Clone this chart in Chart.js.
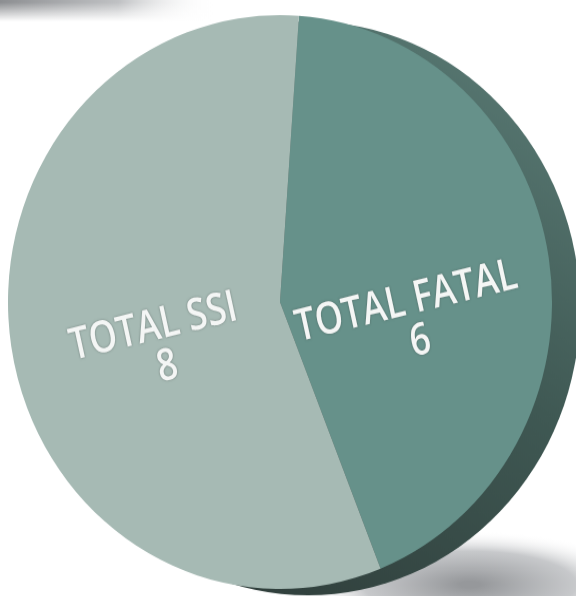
<!DOCTYPE html>
<html>
<head>
<meta charset="utf-8">
<script src="https://cdn.jsdelivr.net/npm/chart.js@4.4.1/dist/chart.umd.min.js"></script>
<style>
  html, body { margin: 0; padding: 0; background: #fff; overflow: hidden; }
  #wrap { width: 576px; height: 596px; overflow: hidden; }
  #pieChart { transform: scaleY(1.055); transform-origin: 280px 302px; }
</style>
</head>
<body>
<div id="wrap"><canvas id="pieChart" width="576" height="596"></canvas></div>
<script>
const categories = ['TOTAL FATAL', 'TOTAL SSI'];
const totals = [6, 8];
const sliceColors = ['#66918a', '#a6bab4'];

document.addEventListener('DOMContentLoaded', () => {
  const ctx = document.getElementById('pieChart').getContext('2d');

  // grey strip top-left and shadow under the pie
  const backdrop = {
    id: 'backdrop',
    beforeDraw(chart) {
      const c = chart.ctx;
      c.save();
      c.fillStyle = '#fff';
      c.fillRect(0, 0, chart.width, chart.height);

      let g = c.createLinearGradient(0, 0, 215, 0);
      g.addColorStop(0, 'rgba(140,142,145,1)');
      g.addColorStop(0.55, 'rgba(175,177,180,0.8)');
      g.addColorStop(1, 'rgba(255,255,255,0)');
      c.fillStyle = g;
      c.fillRect(0, 0, 215, 36);
      let v = c.createLinearGradient(0, 18, 0, 36);
      v.addColorStop(0, 'rgba(255,255,255,0)');
      v.addColorStop(1, 'rgba(255,255,255,1)');
      c.fillStyle = v;
      c.fillRect(0, 18, 215, 18);

      c.translate(470, 570);
      c.scale(1, 0.3);
      let r = c.createRadialGradient(0, 0, 10, 0, 0, 170);
      r.addColorStop(0, 'rgba(150,152,155,1)');
      r.addColorStop(0.6, 'rgba(185,187,190,0.8)');
      r.addColorStop(1, 'rgba(255,255,255,0)');
      c.fillStyle = r;
      c.beginPath();
      c.arc(0, 0, 170, 0, Math.PI * 2);
      c.fill();
      c.restore();
    }
  };

  // dark side of the disc
  const rim = {
    id: 'rim',
    beforeDatasetsDraw(chart) {
      const arc = chart.getDatasetMeta(0).data[0];
      const c = chart.ctx;
      const R = arc.outerRadius;
      c.save();
      const g = c.createLinearGradient(arc.x + R, arc.y - R, arc.x - R * 0.3, arc.y + R);
      g.addColorStop(0, '#5d7f79');
      g.addColorStop(0.5, '#3f5853');
      g.addColorStop(1, '#2f3d3a');
      c.fillStyle = g;
      c.beginPath();
      c.arc(arc.x + 28, arc.y + 6, R, 0, Math.PI * 2);
      c.fill();
      c.restore();
    }
  };

  const sliceLabels = {
    id: 'sliceLabels',
    afterDatasetsDraw(chart) {
      const c = chart.ctx;
      const meta = chart.getDatasetMeta(0);
      meta.data.forEach((arc, i) => {
        const mid = (arc.startAngle + arc.endAngle) / 2;
        const side = Math.cos(mid) >= 0 ? 1 : -1;
        const x = arc.x + side * arc.outerRadius * 0.465;
        const y = arc.y + (side > 0 ? 0 : 24);
        c.save();
        c.translate(x, y);
        c.rotate(-13 * Math.PI / 180);
        c.scale(0.85, 1);
        c.font = '600 42px "Open Sans", sans-serif';
        c.textAlign = 'center';
        c.textBaseline = 'middle';
        c.fillStyle = '#f4f6f5';
        c.shadowColor = 'rgba(60,70,68,0.6)';
        c.shadowBlur = 2;
        c.fillText(categories[i], 0, 0);
        c.fillText(String(totals[i]), 6, 40);
        c.restore();
      });
    }
  };

  new Chart(ctx, {
    type: 'pie',
    data: {
      labels: categories,
      datasets: [{
        data: totals,
        backgroundColor: sliceColors,
        borderWidth: 0
      }]
    },
    options: {
      responsive: false,
      animation: false,
      rotation: 4,
      layout: { padding: { top: 30, bottom: 22, left: 8, right: 24 } },
      plugins: {
        legend: { display: false },
        tooltip: { enabled: false }
      }
    },
    plugins: [backdrop, rim, sliceLabels]
  });
});
</script>
</body>
</html>
